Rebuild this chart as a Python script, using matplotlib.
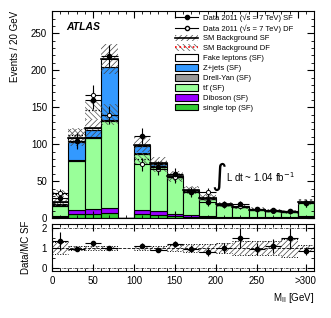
import numpy as np
import matplotlib
matplotlib.use('Agg')
import matplotlib.pyplot as plt
from matplotlib.patches import Patch
from matplotlib.lines import Line2D
from matplotlib.ticker import MultipleLocator, FixedLocator

# Bins of 20 GeV, last bin is the overflow (>300)
bin_edges = [0, 20, 40, 60, 80, 100, 120, 140, 160, 180, 200, 220, 240, 260, 280, 300, 320]

# SF background stack (events per bin)
single_top = [2, 6, 6, 7, 0, 5, 4, 3, 2, 1.5, 1, 1, 0.7, 0.5, 0.5, 1]
diboson = [1, 5, 6, 7, 0, 6, 5, 3, 2, 1.5, 1, 1, 0.8, 0.8, 0.6, 1.5]
ttbar = [14, 66, 97, 117, 0, 76, 61, 49, 33, 23, 16, 13, 10, 9, 7.4, 19]
drell_yan = [0.5, 1, 1, 2, 0, 0.5, 0.3, 0.2, 0, 0, 0, 0, 0, 0, 0, 0]
z_jets = [2, 25, 9, 72, 0, 10, 3, 1, 0, 0, 0, 0, 0, 0, 0, 0]
fakes = [2, 6, 3, 10, 0, 2, 1, 1, 0.5, 1, 0.5, 0, 0, 0, 0, 1]
sf_unc = [5, 12, 12, 20, 0, 10, 8, 7, 5, 4, 3, 3, 2.5, 2.5, 2.5, 4]

# DF background total and uncertainty
df_total = [33, 112, 146, 140, 0, 80, 70, 55, 38, 28, 18, 15, 12, 10, 9, 22]
df_unc = [5, 10, 12, 14, 0, 8, 7, 6, 5, 4, 3, 3, 2.5, 2.5, 2.5, 4]

# Data
data_sf = [27, 105, 160, 219, np.nan, 111, 69, 60, 35, 22, 19, 19, 12, 11, 10, 20]
data_sf_err = [7, 10, 13, 15, np.nan, 11, 8, 8, 6, 5, 4.5, 4.5, 3.5, 3.3, 3, 4.5]
data_df = [34, 104, 167, 140, np.nan, 73, 67, 55, 36, 35, 18, 16, 12, 10, 9, 20]
data_df_err = [6, 10, 13, 12, np.nan, 9, 8, 7, 6, 6, 4, 4, 3.5, 3.2, 3, 4.5]

# Ratio panel
ratio = [1.36, 0.96, 1.24, 1.0, np.nan, 1.1, 0.9, 1.2, 0.97, 0.79, 0.98, 1.5, 0.94, 1.09, 1.47, 0.86]
ratio_err = [0.45, 0.1, 0.12, 0.08, np.nan, 0.12, 0.12, 0.15, 0.18, 0.2, 0.25, 0.5, 0.3, 0.35, 0.5, 0.2]
ratio_band = [0.3, 0.08, 0.08, 0.08, 0, 0.12, 0.12, 0.15, 0.2, 0.2, 0.25, 0.35, 0.35, 0.35, 0.45, 0.15]

plt.rcParams['font.family'] = ['Liberation Sans', 'DejaVu Sans']
plt.rcParams['hatch.linewidth'] = 0.5

edges = np.array(bin_edges, dtype=float)
left = edges[:-1]
width = np.diff(edges)
centers = left + width / 2

fig = plt.figure(figsize=(3.31, 3.18), dpi=100)
ax = fig.add_axes([0.157, 0.314, 0.792, 0.651])
axr = fig.add_axes([0.157, 0.148, 0.792, 0.148])

# Stack
components = [
    (single_top, '#33cc33', 'single top (SF)'),
    (diboson, '#9900ff', 'Diboson (SF)'),
    (ttbar, '#99ff99', 'tt\u0304 (SF)'),
    (drell_yan, '#999999', 'Drell-Yan (SF)'),
    (z_jets, '#3399ff', 'Z+jets (SF)'),
    (fakes, 'white', 'Fake leptons (SF)'),
]
bottom = np.zeros(len(left))
for vals, col, lab in components:
    vals = np.array(vals, dtype=float)
    ax.bar(left, vals, width=width, bottom=bottom, align='edge', color=col,
           edgecolor='black', linewidth=0.8)
    bottom = bottom + vals
sf_total = bottom

# DF background: dotted outline + hatched band
df_total = np.array(df_total, dtype=float)
df_unc = np.array(df_unc, dtype=float)
for i in range(len(left)):
    if df_total[i] <= 0:
        continue
    ax.bar(left[i], 2 * df_unc[i], width=width[i], bottom=df_total[i] - df_unc[i],
           align='edge', color='none', edgecolor='#555555', hatch='\\\\\\\\\\\\', linewidth=0)
    ax.plot([left[i], left[i] + width[i]], [df_total[i]] * 2, color='black', ls=':', lw=0.9)

# SF band
sf_unc = np.array(sf_unc, dtype=float)
for i in range(len(left)):
    if sf_total[i] <= 0:
        continue
    ax.bar(left[i], 2 * sf_unc[i], width=width[i], bottom=sf_total[i] - sf_unc[i],
           align='edge', color='none', edgecolor='#444444', hatch='//////', linewidth=0)
    ax.plot([left[i], left[i] + width[i]], [sf_total[i]] * 2, color='black', lw=1.2)

# Data points
ax.errorbar(centers, data_df, yerr=data_df_err, xerr=width / 2, fmt='o', ms=3,
            mfc='white', mec='black', color='black', elinewidth=0.8, capsize=0, mew=0.7)
ax.errorbar(centers, data_sf, yerr=data_sf_err, xerr=width / 2, fmt='o', ms=3,
            color='black', elinewidth=0.8, capsize=0)

ax.set_xlim(0, 320)
ax.set_ylim(0, 280)
ax.set_ylabel('Events / 20 GeV', fontsize=7, loc='top', labelpad=8)
ax.yaxis.set_major_locator(MultipleLocator(50))
ax.yaxis.set_minor_locator(MultipleLocator(10))
ax.xaxis.set_major_locator(MultipleLocator(50))
ax.xaxis.set_minor_locator(MultipleLocator(10))
ax.tick_params(which='both', direction='in', top=True, right=True, labelsize=7)
ax.tick_params(which='major', length=5)
ax.tick_params(which='minor', length=2.5)
ax.tick_params(axis='x', labelbottom=False)

ax.text(17, 259, 'ATLAS', fontsize=7.5, fontweight='bold', fontstyle='italic', va='center')
ax.text(194, 56, r'$\int$', fontsize=15, va='center')
ax.text(212, 56, r'L dt ~ 1.04 fb$^{-1}$', fontsize=7, va='center')

# Legend
handles = [
    Line2D([], [], color='black', marker='o', ms=3, lw=0.8),
    Line2D([], [], color='black', marker='o', ms=3, mfc='white', lw=0.8),
    (Patch(facecolor='white', edgecolor='#444444', hatch='//////', lw=0),
     Line2D([], [], color='black', lw=1.2)),
    (Patch(facecolor='white', edgecolor='#555555', hatch='\\\\\\\\\\\\', lw=0),
     Line2D([], [], color='red', ls=':', lw=1.2)),
]
labels = ['Data 2011 (\u221as = 7 TeV) SF', 'Data 2011 (\u221as = 7 TeV) DF',
          'SM Background SF', 'SM Background DF']
for vals, col, lab in components[::-1]:
    handles.append(Patch(facecolor=col, edgecolor='black', lw=0.8))
    labels.append(lab)
ax.legend(handles, labels, loc='upper left', bbox_to_anchor=(0.453, 1.01), frameon=False,
          fontsize=5.5, handlelength=3.0, handleheight=0.95, labelspacing=0.26,
          borderpad=0.1, handletextpad=0.6)

# Ratio panel
ratio_band = np.array(ratio_band, dtype=float)
for i in range(len(left)):
    if ratio_band[i] <= 0:
        continue
    axr.bar(left[i], 2 * ratio_band[i], width=width[i], bottom=1 - ratio_band[i],
            align='edge', color='none', edgecolor='#444444', hatch='//////', linewidth=0)
    axr.plot([left[i], left[i] + width[i]], [1 + ratio_band[i]] * 2, color='black', ls=':', lw=0.7)
    axr.plot([left[i], left[i] + width[i]], [1 - ratio_band[i]] * 2, color='black', ls=':', lw=0.7)
axr.axhline(1, color='black', ls='--', lw=0.6)
axr.axhline(0, color='black', ls='-.', lw=0.5, dashes=(4, 1.5, 1, 1.5))
axr.axhline(2, color='black', ls='-.', lw=0.5, dashes=(4, 1.5, 1, 1.5))
axr.errorbar(centers, ratio, yerr=ratio_err, xerr=width / 2, fmt='o', ms=3,
             color='black', elinewidth=0.8, capsize=0)
axr.set_xlim(0, 320)
axr.set_ylim(-0.15, 2.2)
axr.yaxis.set_major_locator(FixedLocator([0, 1, 2]))
axr.yaxis.set_minor_locator(MultipleLocator(0.5))
axr.xaxis.set_major_locator(FixedLocator([0, 50, 100, 150, 200, 250, 310]))
axr.set_xticklabels(['0', '50', '100', '150', '200', '250', '>300'])
axr.xaxis.set_minor_locator(MultipleLocator(10))
axr.tick_params(which='both', direction='in', top=True, right=True, labelsize=7)
axr.tick_params(which='major', length=5)
axr.tick_params(which='minor', length=2.5)
axr.set_ylabel('Data/MC SF', fontsize=7, labelpad=8)
axr.set_xlabel(r'M$_{\rm ll}$ [GeV]', fontsize=7, loc='right')

fig.align_ylabels([ax, axr])
fig.savefig('out.png', dpi=100)
